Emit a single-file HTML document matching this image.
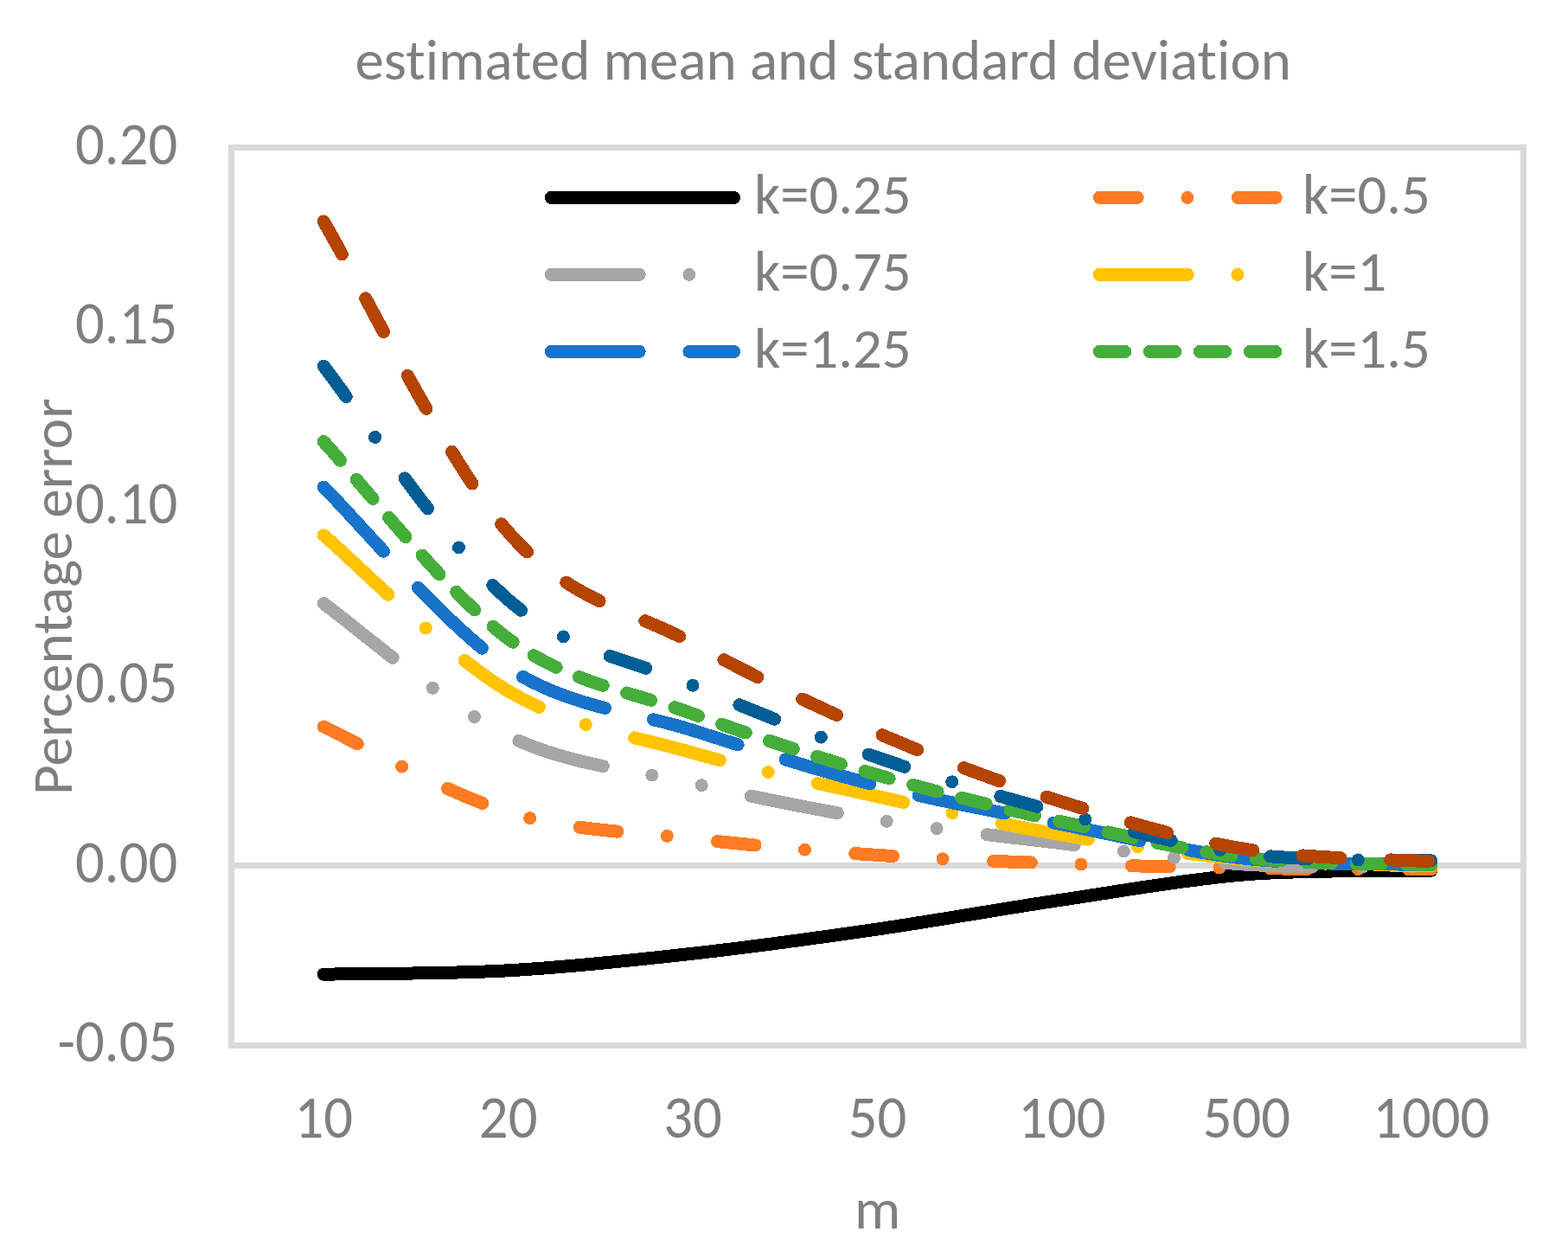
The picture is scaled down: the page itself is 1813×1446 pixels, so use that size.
<!DOCTYPE html><html><head><meta charset="utf-8"><title>estimated mean and standard deviation</title><style>html,body{margin:0;padding:0;background:#fff;overflow:hidden}svg{display:block}text{font-variant-ligatures:none;font-feature-settings:"liga" 0,"clig" 0,"kern" 1}</style></head><body>
<svg width="1813" height="1446" viewBox="0 0 1813 1446">
<rect x="0" y="0" width="1813" height="1446" fill="#fff"/>
<rect x="267.5" y="170.5" width="1494" height="1038" fill="none" stroke="#d9d9d9" stroke-width="7"/>
<line x1="271" y1="1000.60" x2="1758" y2="1000.60" stroke="#d9d9d9" stroke-width="7"/>
<text x="410.40" y="91.60" font-family="Carlito, 'Liberation Sans', sans-serif" font-size="66.67" fill="#7f7f7f" text-anchor="start" textLength="1082.6" lengthAdjust="spacingAndGlyphs">estimated mean and standard deviation</text>
<text x="0" y="0" transform="translate(205.20,189.70) scale(1,1.048)" font-family="Carlito, 'Liberation Sans', sans-serif" font-size="66.67" fill="#7f7f7f" text-anchor="end" textLength="118.19" lengthAdjust="spacingAndGlyphs">0.20</text>
<text x="0" y="0" transform="translate(205.20,397.22) scale(1,1.048)" font-family="Carlito, 'Liberation Sans', sans-serif" font-size="66.67" fill="#7f7f7f" text-anchor="end" textLength="118.19" lengthAdjust="spacingAndGlyphs">0.15</text>
<text x="0" y="0" transform="translate(205.20,604.75) scale(1,1.048)" font-family="Carlito, 'Liberation Sans', sans-serif" font-size="66.67" fill="#7f7f7f" text-anchor="end" textLength="118.19" lengthAdjust="spacingAndGlyphs">0.10</text>
<text x="0" y="0" transform="translate(205.20,812.28) scale(1,1.048)" font-family="Carlito, 'Liberation Sans', sans-serif" font-size="66.67" fill="#7f7f7f" text-anchor="end" textLength="118.19" lengthAdjust="spacingAndGlyphs">0.05</text>
<text x="0" y="0" transform="translate(205.20,1019.80) scale(1,1.048)" font-family="Carlito, 'Liberation Sans', sans-serif" font-size="66.67" fill="#7f7f7f" text-anchor="end" textLength="118.19" lengthAdjust="spacingAndGlyphs">0.00</text>
<text x="0" y="0" transform="translate(205.20,1227.33) scale(1,1.048)" font-family="Carlito, 'Liberation Sans', sans-serif" font-size="66.67" fill="#7f7f7f" text-anchor="end" textLength="138.59" lengthAdjust="spacingAndGlyphs">-0.05</text>
<text x="0" y="0" transform="translate(374.21,1314.80) scale(1,1.048)" font-family="Carlito, 'Liberation Sans', sans-serif" font-size="66.67" fill="#7f7f7f" text-anchor="middle" textLength="67.58" lengthAdjust="spacingAndGlyphs">10</text>
<text x="0" y="0" transform="translate(587.64,1314.80) scale(1,1.048)" font-family="Carlito, 'Liberation Sans', sans-serif" font-size="66.67" fill="#7f7f7f" text-anchor="middle" textLength="67.58" lengthAdjust="spacingAndGlyphs">20</text>
<text x="0" y="0" transform="translate(801.07,1314.80) scale(1,1.048)" font-family="Carlito, 'Liberation Sans', sans-serif" font-size="66.67" fill="#7f7f7f" text-anchor="middle" textLength="67.58" lengthAdjust="spacingAndGlyphs">30</text>
<text x="0" y="0" transform="translate(1014.50,1314.80) scale(1,1.048)" font-family="Carlito, 'Liberation Sans', sans-serif" font-size="66.67" fill="#7f7f7f" text-anchor="middle" textLength="67.58" lengthAdjust="spacingAndGlyphs">50</text>
<text x="0" y="0" transform="translate(1227.93,1314.80) scale(1,1.048)" font-family="Carlito, 'Liberation Sans', sans-serif" font-size="66.67" fill="#7f7f7f" text-anchor="middle" textLength="101.36" lengthAdjust="spacingAndGlyphs">100</text>
<text x="0" y="0" transform="translate(1441.36,1314.80) scale(1,1.048)" font-family="Carlito, 'Liberation Sans', sans-serif" font-size="66.67" fill="#7f7f7f" text-anchor="middle" textLength="101.36" lengthAdjust="spacingAndGlyphs">500</text>
<text x="0" y="0" transform="translate(1654.79,1314.80) scale(1,1.048)" font-family="Carlito, 'Liberation Sans', sans-serif" font-size="66.67" fill="#7f7f7f" text-anchor="middle" textLength="135.14" lengthAdjust="spacingAndGlyphs">1000</text>
<text x="1014.50" y="1420.00" font-family="Carlito, 'Liberation Sans', sans-serif" font-size="66.67" fill="#7f7f7f" text-anchor="middle" textLength="53.25" lengthAdjust="spacingAndGlyphs">m</text>
<text x="0.00" y="0.00" font-family="Carlito, 'Liberation Sans', sans-serif" font-size="66.67" fill="#7f7f7f" text-anchor="middle" textLength="458.8" lengthAdjust="spacingAndGlyphs" transform="translate(83.3,689.7) rotate(-90)">Percentage error</text>
<path d="M374.21,1126.20 C409.79,1125.47 516.50,1125.80 587.64,1121.80 C658.79,1117.80 729.93,1110.17 801.07,1102.20 C872.21,1094.23 943.36,1084.35 1014.50,1074.00 C1085.64,1063.65 1156.79,1050.65 1227.93,1040.10 C1299.07,1029.55 1370.21,1016.33 1441.36,1010.70 C1512.50,1005.07 1619.21,1007.03 1654.79,1006.30" fill="none" stroke="#000000" stroke-width="15.0" stroke-linecap="round" stroke-linejoin="round" shape-rendering="crispEdges"/>
<path d="M374.21,840.00 C409.79,856.48 516.50,917.33 587.64,938.90 C658.79,960.47 729.93,961.15 801.07,969.40 C872.21,977.65 943.36,983.58 1014.50,988.40 C1085.64,993.22 1156.79,995.78 1227.93,998.30 C1299.07,1000.82 1370.21,1002.38 1441.36,1003.50 C1512.50,1004.62 1619.21,1004.75 1654.79,1005.00" fill="none" stroke="#ff7c24" stroke-width="15.0" stroke-linecap="round" stroke-linejoin="round" shape-rendering="crispEdges" stroke-dasharray="43.80 57.70 0.00 58.50"/>
<path d="M374.21,697.60 C409.79,723.12 516.50,816.07 587.64,850.70 C658.79,885.33 729.93,889.25 801.07,905.40 C872.21,921.55 943.36,936.03 1014.50,947.60 C1085.64,959.17 1156.79,966.20 1227.93,974.80 C1299.07,983.40 1370.21,994.67 1441.36,999.20 C1512.50,1003.73 1619.21,1001.53 1654.79,1002.00" fill="none" stroke="#a6a6a6" stroke-width="15.0" stroke-linecap="round" stroke-linejoin="round" shape-rendering="crispEdges" stroke-dasharray="101.80 57.70 0.00 58.50 0.00 58.50"/>
<path d="M374.21,618.70 C409.79,648.72 516.50,756.90 587.64,798.80 C658.79,840.70 729.93,849.80 801.07,870.10 C872.21,890.40 943.36,904.78 1014.50,920.60 C1085.64,936.42 1156.79,952.85 1227.93,965.00 C1299.07,977.15 1370.21,987.50 1441.36,993.50 C1512.50,999.50 1619.21,999.75 1654.79,1001.00" fill="none" stroke="#ffc300" stroke-width="15.0" stroke-linecap="round" stroke-linejoin="round" shape-rendering="crispEdges" stroke-dasharray="101.80 57.70 0.00 58.50"/>
<path d="M374.21,563.00 C409.79,597.83 516.50,725.13 587.64,772.00 C658.79,818.87 729.93,821.53 801.07,844.20 C872.21,866.87 943.36,889.88 1014.50,908.00 C1085.64,926.12 1156.79,938.82 1227.93,952.90 C1299.07,966.98 1370.21,984.73 1441.36,992.50 C1512.50,1000.27 1619.21,998.33 1654.79,999.50" fill="none" stroke="#1774ca" stroke-width="15.0" stroke-linecap="round" stroke-linejoin="round" shape-rendering="crispEdges" stroke-dasharray="101.80 57.70"/>
<path d="M374.21,510.50 C409.79,548.47 516.50,685.87 587.64,738.30 C658.79,790.73 729.93,798.87 801.07,825.10 C872.21,851.33 943.36,874.90 1014.50,895.70 C1085.64,916.50 1156.79,933.95 1227.93,949.90 C1299.07,965.85 1370.21,983.05 1441.36,991.40 C1512.50,999.75 1619.21,998.57 1654.79,1000.00" fill="none" stroke="#45ae3b" stroke-width="15.0" stroke-linecap="round" stroke-linejoin="round" shape-rendering="crispEdges" stroke-dasharray="29.30 28.70"/>
<path d="M374.21,423.30 C409.79,468.30 516.50,631.82 587.64,693.30 C658.79,754.78 729.93,761.82 801.07,792.20 C872.21,822.58 943.36,850.98 1014.50,875.60 C1085.64,900.22 1156.79,921.33 1227.93,939.90 C1299.07,958.47 1370.21,977.87 1441.36,987.00 C1512.50,996.13 1619.21,993.42 1654.79,994.70" fill="none" stroke="#005e95" stroke-width="15.0" stroke-linecap="round" stroke-linejoin="round" shape-rendering="crispEdges" stroke-dasharray="43.80 57.70 0.00 58.50"/>
<path d="M374.21,256.00 C409.79,315.85 516.50,533.85 587.64,615.10 C658.79,696.35 729.93,704.80 801.07,743.50 C872.21,782.20 943.36,816.73 1014.50,847.30 C1085.64,877.87 1156.79,904.50 1227.93,926.90 C1299.07,949.30 1370.21,970.22 1441.36,981.70 C1512.50,993.18 1619.21,993.45 1654.79,995.80" fill="none" stroke="#b44400" stroke-width="15.0" stroke-linecap="round" stroke-linejoin="round" shape-rendering="crispEdges" stroke-dasharray="43.80 57.70"/>
<path d="M637.40,228.45 H848.60" fill="none" stroke="#000000" stroke-width="15.0" stroke-linecap="round" shape-rendering="crispEdges"/>
<text x="871.90" y="246.70" font-family="Carlito, 'Liberation Sans', sans-serif" font-size="66.67" fill="#7f7f7f" text-anchor="start" textLength="181.69" lengthAdjust="spacingAndGlyphs">k=0.25</text>
<path d="M1271.40,228.45 H1482.60" fill="none" stroke="#ff7c24" stroke-width="15.0" stroke-linecap="round" shape-rendering="crispEdges" stroke-dasharray="43.80 57.70 0.00 58.50"/>
<text x="1506.00" y="246.70" font-family="Carlito, 'Liberation Sans', sans-serif" font-size="66.67" fill="#7f7f7f" text-anchor="start" textLength="147.91" lengthAdjust="spacingAndGlyphs">k=0.5</text>
<path d="M637.40,317.45 H848.60" fill="none" stroke="#a6a6a6" stroke-width="15.0" stroke-linecap="round" shape-rendering="crispEdges" stroke-dasharray="101.80 57.70 0.00 58.50 0.00 58.50"/>
<text x="871.90" y="335.70" font-family="Carlito, 'Liberation Sans', sans-serif" font-size="66.67" fill="#7f7f7f" text-anchor="start" textLength="181.69" lengthAdjust="spacingAndGlyphs">k=0.75</text>
<path d="M1271.40,317.45 H1482.60" fill="none" stroke="#ffc300" stroke-width="15.0" stroke-linecap="round" shape-rendering="crispEdges" stroke-dasharray="101.80 57.70 0.00 58.50"/>
<text x="1506.00" y="335.70" font-family="Carlito, 'Liberation Sans', sans-serif" font-size="66.67" fill="#7f7f7f" text-anchor="start" textLength="97.30" lengthAdjust="spacingAndGlyphs">k=1</text>
<path d="M637.40,406.45 H848.60" fill="none" stroke="#1774ca" stroke-width="15.0" stroke-linecap="round" shape-rendering="crispEdges" stroke-dasharray="101.80 57.70"/>
<text x="871.90" y="424.70" font-family="Carlito, 'Liberation Sans', sans-serif" font-size="66.67" fill="#7f7f7f" text-anchor="start" textLength="181.69" lengthAdjust="spacingAndGlyphs">k=1.25</text>
<path d="M1271.40,406.45 H1482.60" fill="none" stroke="#45ae3b" stroke-width="15.0" stroke-linecap="round" shape-rendering="crispEdges" stroke-dasharray="29.30 28.70"/>
<text x="1506.00" y="424.70" font-family="Carlito, 'Liberation Sans', sans-serif" font-size="66.67" fill="#7f7f7f" text-anchor="start" textLength="147.91" lengthAdjust="spacingAndGlyphs">k=1.5</text>
</svg></body></html>
